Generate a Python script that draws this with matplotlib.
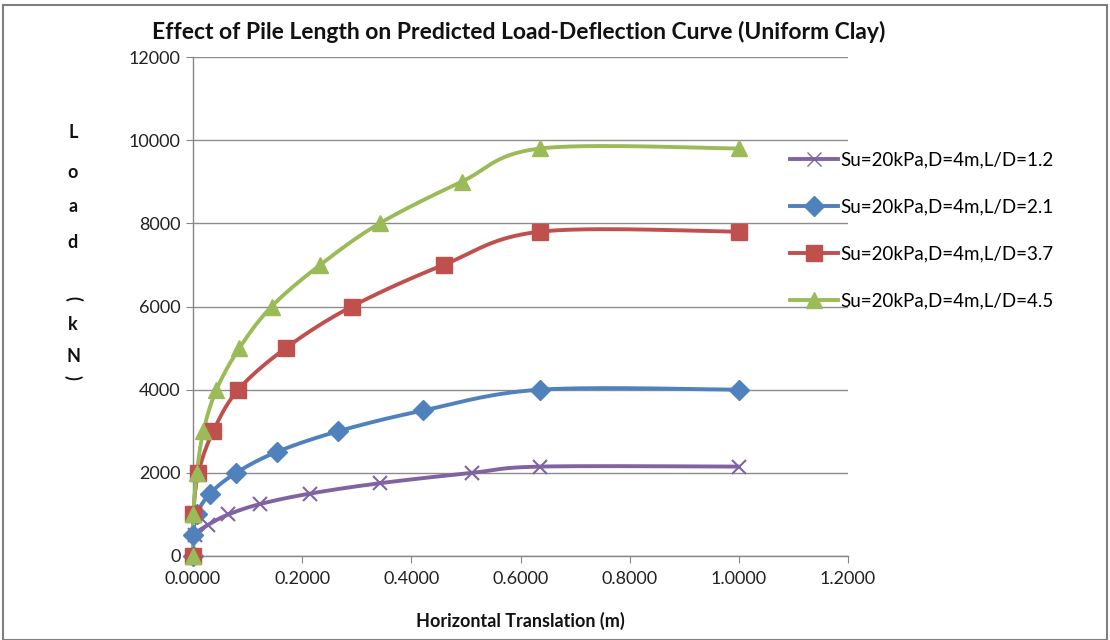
import numpy as np
import matplotlib
matplotlib.use("Agg")
import matplotlib.pyplot as plt
from matplotlib.lines import Line2D

plt.rcParams['font.family'] = ['Lato', 'DejaVu Sans']

labels = ["Su=20kPa,D=4m,L/D=1.2", "Su=20kPa,D=4m,L/D=2.1",
          "Su=20kPa,D=4m,L/D=3.7", "Su=20kPa,D=4m,L/D=4.5"]
x_ld12 = [0.0, 0.004, 0.028, 0.065, 0.123, 0.214, 0.342, 0.511, 0.636, 1.0]
y_ld12 = [0, 500, 750, 1000, 1250, 1500, 1750, 2000, 2150, 2150]
x_ld21 = [0.0, 0.0006, 0.007, 0.031, 0.079, 0.153, 0.266, 0.422, 0.636, 1.0]
y_ld21 = [0, 500, 1000, 1500, 2000, 2500, 3000, 3500, 4000, 4000]
x_ld37 = [0.0, 0.0006, 0.0098, 0.037, 0.083, 0.170, 0.291, 0.459, 0.636, 1.0]
y_ld37 = [0, 1000, 2000, 3000, 4000, 5000, 6000, 7000, 7800, 7800]
x_ld45 = [0.0, 0.0006, 0.007, 0.019, 0.043, 0.085, 0.144, 0.233, 0.342, 0.492, 0.636, 1.0]
y_ld45 = [0, 1000, 2000, 3000, 4000, 5000, 6000, 7000, 8000, 9000, 9800, 9800]

series = [(x_ld12, y_ld12), (x_ld21, y_ld21), (x_ld37, y_ld37), (x_ld45, y_ld45)]
colors = ['#8064A2', '#4F81BD', '#C0504D', '#9BBB59']
markers = ['x', 'D', 's', '^']
msizes = [10, 10, 11, 12]

xticks = [0.0, 0.2, 0.4, 0.6, 0.8, 1.0, 1.2]
yticks = [0, 2000, 4000, 6000, 8000, 10000, 12000]


def smooth(xs, ys, sx=1.2, sy=12000.0, n=30):
    px = np.array(xs) / sx
    py = np.array(ys) / sy
    P = np.column_stack([px, py])
    out = [P[0]]
    m = len(P)
    for i in range(m - 1):
        p0 = P[i - 1] if i > 0 else P[i]
        p1 = P[i]
        p2 = P[i + 1]
        p3 = P[i + 2] if i + 2 < m else P[i + 1]
        c1 = p1 + (p2 - p0) / 6.0
        c2 = p2 - (p3 - p1) / 6.0
        t = np.linspace(0, 1, n)[1:, None]
        b = ((1 - t) ** 3) * p1 + 3 * ((1 - t) ** 2) * t * c1 + 3 * (1 - t) * t ** 2 * c2 + t ** 3 * p2
        out.extend(b)
    out = np.array(out)
    return out[:, 0] * sx, out[:, 1] * sy


fig = plt.figure(figsize=(11.1, 6.4), dpi=100)
ax = fig.add_axes([193 / 1110, 1 - 556 / 640, (848 - 193) / 1110, (556 - 57) / 640])

handles = []
for (xs, ys), c, mk, ms, lab in zip(series, colors, markers, msizes, labels):
    sx, sy = smooth(xs, ys)
    ax.plot(sx, sy, color=c, lw=2.8, solid_capstyle='round', zorder=3, clip_on=False)
    if mk == 'x':
        ax.plot(xs, ys, ls='none', marker=mk, ms=ms, mec=c, mew=1.5, zorder=4, clip_on=False)
    else:
        ax.plot(xs, ys, ls='none', marker=mk, ms=ms, mfc=c, mec=c, zorder=4, clip_on=False)
    handles.append(Line2D([], [], color=c, lw=2.8, marker=mk, ms=ms if mk != 'x' else 10,
                          mec=c, mfc=c, mew=1.0 if mk == 'x' else 1))

ax.set_xlim(0, 1.2)
ax.set_ylim(0, 12000)
ax.set_xticks(xticks)
ax.set_xticklabels([f"{v:.4f}" for v in xticks])
ax.set_yticks(yticks)
ax.set_yticklabels([str(v) for v in yticks])
ax.tick_params(axis='both', labelsize=13, color='#868686', length=5, direction='out',
               labelcolor='#222222')
ax.tick_params(axis='x', pad=6)
ax.tick_params(axis='y', pad=4)
ax.grid(axis='y', color='#8c8c8c', lw=1)
ax.set_axisbelow(True)
for s in ['top', 'right']:
    ax.spines[s].set_visible(False)
for s in ['left', 'bottom']:
    ax.spines[s].set_color('#868686')
    ax.spines[s].set_linewidth(1)

fig.text(519 / 1110, 1 - 32 / 640, "Effect of Pile Length on Predicted Load-Deflection Curve (Uniform Clay)",
         ha='center', va='center', fontsize=16.5, fontweight='bold', color='#111111')
fig.text(520 / 1110, 1 - 621 / 640, "Horizontal Translation (m)", ha='center', va='center',
         fontsize=13, fontweight='bold', color='#111111')

chars = [('L', 133, 0), ('o', 172, 0), ('a', 207, 0), ('d', 243, 0),
         ('(', 298, -90), ('k', 325, 0), ('N', 357, 0), (')', 377, -90)]
for ch, yy, rot in chars:
    fig.text(73 / 1110, 1 - yy / 640, ch, ha='center', va='center', fontsize=13,
             fontweight='bold', rotation=rot, color='#111111')

leg = fig.legend(handles, labels, loc='upper left', bbox_to_anchor=(782 / 1110, 1 - 144 / 640),
                 frameon=False, fontsize=13.5, handlelength=2.6, handletextpad=0.1,
                 labelspacing=1.6, borderaxespad=0)

# outer border
fig.patches.append(plt.Rectangle((0.003, 0.0), 0.994, 0.992, transform=fig.transFigure,
                                 fill=False, ec='#7f7f7f', lw=1.5))

fig.savefig("out.png", dpi=100)
